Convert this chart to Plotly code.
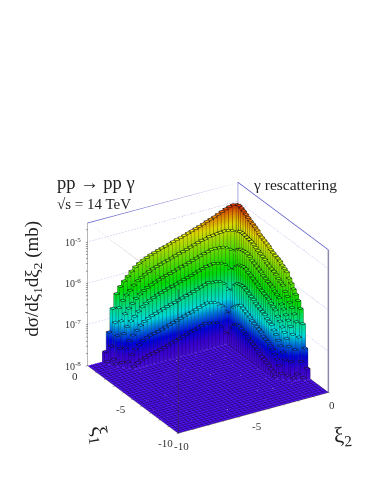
import plotly.graph_objects as go

# log10 of the cross section
# each row is one L-shaped strip next to xi1 = 0 / xi2 = 0, from the corner outwards
row_0 = [-5.05, -5.03, -5.05, -5.08, -5.12, -5.16, -5.20, -5.23, -5.26, -5.30, -5.33, -5.36, -5.39, -5.42, -5.45, -5.48, -5.50, -5.53, -5.56, -5.59, -5.61, -5.64, -5.67, -5.70, -5.74, -5.78, -5.83, -5.89, -5.97, -6.07, -6.16, -6.27, -6.42, -6.75, -7.30, -7.75]
row_1 = [-5.65, -5.59, -5.56, -5.55, -5.56, -5.57, -5.58, -5.59, -5.62, -5.63, -5.66, -5.69, -5.72, -5.75, -5.78, -5.80, -5.83, -5.86, -5.89, -5.91, -5.94, -5.97, -6.00, -6.04, -6.08, -6.13, -6.19, -6.27, -6.37, -6.46, -6.57, -6.72, -7.05, -7.60, -7.95]
row_2 = [-6.12, -5.98, -5.92, -5.88, -5.87, -5.86, -5.86, -5.89, -5.91, -5.94, -5.97, -6.00, -6.03, -6.06, -6.08, -6.11, -6.14, -6.17, -6.19, -6.22, -6.25, -6.28, -6.32, -6.36, -6.41, -6.47, -6.55, -6.65, -6.74, -6.85, -7.00, -7.33, -7.88]
row_3 = [-6.58, -6.37, -6.26, -6.20, -6.18, -6.16, -6.17, -6.18, -6.21, -6.24, -6.27, -6.30, -6.33, -6.35, -6.38, -6.41, -6.44, -6.46, -6.49, -6.52, -6.55, -6.59, -6.63, -6.68, -6.74, -6.82, -6.92, -7.01, -7.12, -7.27, -7.60, -7.95]
row_4 = [-7.02, -6.81, -6.65, -6.58, -6.56, -6.55, -6.53, -6.56, -6.59, -6.62, -6.65, -6.68, -6.70, -6.73, -6.76, -6.79, -6.81, -6.84, -6.87, -6.90, -6.93, -6.96, -7.00, -7.05, -7.12, -7.22, -7.31, -7.42, -7.57, -7.90]
row_5 = [-7.51, -7.30, -7.13, -7.06, -7.00, -6.98, -6.96, -6.99, -7.02, -7.05, -7.08, -7.10, -7.13, -7.16, -7.19, -7.21, -7.24, -7.27, -7.30, -7.33, -7.35, -7.37, -7.40, -7.45, -7.53, -7.61, -7.72, -7.87]
row_6 = [-7.95, -7.73, -7.56, -7.45, -7.43, -7.41, -7.39, -7.42, -7.45, -7.48, -7.50, -7.53, -7.56, -7.59, -7.61, -7.64, -7.67, -7.70, -7.73, -7.75, -7.77, -7.79, -7.82, -7.86, -7.90, -7.96]
rows = [row_0, row_1, row_2, row_3, row_4, row_5, row_6]
# the xi1 arm falls faster and is about a unit shorter than the xi2 arm
skipped_bins = [10, 16, 22, 26]
short_rows = [[v for m, v in enumerate(r, k) if m not in skipped_bins] for k, r in enumerate(rows)]

n_bins = 40
xi_low, xi_high = -10, 0
z_floor, z_top = -8, -4.54
edges = [xi_low + 0.25 * i for i in range(n_bins + 1)]

z_ticks = [-8, -7, -6, -5]
z_text = ['10<sup>-8</sup>', '10<sup>-7</sup>', '10<sup>-6</sup>', '10<sup>-5</sup>']
z_minor = [-7.70, -7.52, -7.40, -7.30, -7.22, -7.15, -7.10, -7.05,
           -6.70, -6.52, -6.40, -6.30, -6.22, -6.15, -6.10, -6.05,
           -5.70, -5.52, -5.40, -5.30, -5.22, -5.15, -5.10, -5.05,
           -4.70, -4.52]
xi_ticks = [-10, -5, 0]
xi_text = ['-10', '-5', '0']
xi_minor = [-9, -8, -7, -6, -4, -3, -2, -1]


def cell_value(ix, iy):
    # ix is the xi2 bin, iy the xi1 bin
    a = n_bins - 1 - ix
    b = n_bins - 1 - iy
    k, m = min(a, b), max(a, b)
    table = rows if a >= b else short_rows
    if k >= len(table) or m - k >= len(table[k]):
        return z_floor
    return table[k][m - k]


heights = [[cell_value(ix, iy) for ix in range(n_bins)] for iy in range(n_bins)]

# doubled edges make the surface step like a lego plot
step_x = [e for i in range(n_bins) for e in (edges[i], edges[i + 1])]
step_z = []
for iy in range(n_bins):
    line = [v for v in heights[iy] for _ in (0, 1)]
    step_z.append(line)
    step_z.append(line)

rainbow = [
    [0.00, '#5010f0'], [0.08, '#4000f0'], [0.17, '#0000ff'], [0.25, '#0080ff'],
    [0.32, '#00ffff'], [0.43, '#00ff90'], [0.55, '#00ff00'], [0.72, '#90ff00'],
    [0.84, '#ffff00'], [0.92, '#ff9000'], [1.00, '#e01000'],
]
# same levels, darker, for the vertical bar edges
dark_rainbow = [
    [0.00, '#280878'], [0.08, '#200078'], [0.17, '#000080'], [0.25, '#004080'],
    [0.32, '#008080'], [0.43, '#008048'], [0.55, '#008000'], [0.72, '#488000'],
    [0.84, '#808000'], [0.92, '#804800'], [1.00, '#700800'],
]

fig = go.Figure()
fig.add_trace(go.Surface(
    x=step_x, y=step_x, z=step_z, surfacecolor=step_z,
    cmin=z_floor, cmax=-4.95, colorscale=rainbow, showscale=False, hoverinfo='skip',
    lighting=dict(ambient=0.85, diffuse=0.25, specular=0, roughness=1, fresnel=0),
))

# bar outlines, nudged towards the viewer so they sit on top of the faces
nudge = 0.03
top_x, top_y, top_z = [], [], []
wall_x, wall_y, wall_z, wall_c = [], [], [], []
floor_x, floor_y, floor_z = [], [], []
for iy in range(n_bins):
    for ix in range(n_bins):
        z = heights[iy][ix]
        x0, x1 = edges[ix] - nudge, edges[ix + 1] - nudge
        y0, y1 = edges[iy] - nudge, edges[iy + 1] - nudge
        lift = z + 0.01
        if z > z_floor:
            top_x += [x0, x1, x1, x0, x0, None]
            top_y += [y0, y0, y1, y1, y0, None]
            top_z += [lift, lift, lift, lift, lift, None]
            for cx, cy in ((x0, y0), (x1, y0), (x0, y1)):
                wall_x += [cx, cx, None]
                wall_y += [cy, cy, None]
                wall_z += [z_floor, z, None]
                wall_c += [z_floor, z, z]
        else:
            floor_x += [x0, x1, x1, None]
            floor_y += [y0, y0, y1, None]
            floor_z += [lift, lift, lift, None]
fig.add_trace(go.Scatter3d(x=top_x, y=top_y, z=top_z, mode='lines', hoverinfo='skip', showlegend=False,
                           line=dict(color='#101018', width=1)))
fig.add_trace(go.Scatter3d(x=wall_x, y=wall_y, z=wall_z, mode='lines', hoverinfo='skip', showlegend=False,
                           line=dict(color=wall_c, colorscale=dark_rainbow, cmin=z_floor, cmax=-4.95, width=1)))
fig.add_trace(go.Scatter3d(x=floor_x, y=floor_y, z=floor_z, mode='lines', hoverinfo='skip', showlegend=False,
                           line=dict(color='#200a68', width=1)))


def add_line(xs, ys, zs, color, width=1, dash='solid'):
    fig.add_trace(go.Scatter3d(x=xs, y=ys, z=zs, mode='lines', hoverinfo='skip', showlegend=False,
                               line=dict(color=color, width=width, dash=dash)))


# back walls: blue top edges, thick verticals, dotted decades
add_line([xi_low, xi_high, xi_high], [xi_high, xi_high, xi_low], [z_top, z_top, z_top], '#5a5ac8', 1.5)
add_line([xi_high, xi_high], [xi_high, xi_high], [z_floor, z_top], '#a8a8e0', 2)
add_line([xi_high, xi_high], [xi_low, xi_low], [z_floor, z_top], '#8a8aa8', 3)
for tick in z_ticks[1:]:
    add_line([xi_low, xi_high, xi_high], [xi_high, xi_high, xi_low], [tick, tick, tick], '#8c8ce0', 1, 'dot')
# front frame
add_line([xi_low, xi_low, xi_high], [xi_high, xi_low, xi_low], [z_top, z_top, z_top], '#404040', 1)
add_line([xi_low, xi_low], [xi_low, xi_low], [z_floor, z_top], '#303030', 1)

axis_common = dict(showbackground=False, showgrid=False, zeroline=False, showspikes=False,
                   showline=True, linecolor='#404040', linewidth=1, title='', ticks='outside',
                   ticklen=2, tickcolor='#404040', autorange=False, showticklabels=False,
                   tickmode='array')


def tick_label(text, x, y, z, dx, dy, anchor='center', size=11):
    return dict(x=x, y=y, z=z, text=text, showarrow=False, xshift=dx, yshift=dy, xanchor=anchor,
                yanchor='middle', font=dict(family='Liberation Serif', size=size, color='#333333'))


tick_labels = []
for tick, text in zip(z_ticks, z_text):
    tick_labels.append(tick_label(text, xi_low, xi_high, tick, -4, 0, 'right', 10))
for tick, text in zip(xi_ticks, xi_text):
    tick_labels.append(tick_label(text, xi_low, tick, z_floor, -12, -10))   # xi1
    tick_labels.append(tick_label(text, tick, xi_low, z_floor, 4, -13))     # xi2

fig.update_layout(
    margin=dict(l=0, r=0, t=0, b=0),
    paper_bgcolor='white',
    showlegend=False,
    scene=dict(
        domain=dict(x=[0.092, 1.0], y=[0.0, 0.756]),
        aspectmode='manual',
        aspectratio=dict(x=0.972, y=0.972, z=0.885),
        camera=dict(
            projection=dict(type='orthographic'),
            up=dict(x=0, y=0, z=1),
            center=dict(x=0, y=0, z=0.014),
            eye=dict(x=-0.95, y=-1.576, z=0.941),
        ),
        xaxis=dict(axis_common, range=[xi_low, xi_high], tickvals=sorted(xi_ticks + xi_minor)),
        yaxis=dict(axis_common, range=[xi_low, xi_high], tickvals=sorted(xi_ticks + xi_minor)),
        zaxis=dict(axis_common, range=[z_floor, z_top], tickvals=sorted(z_ticks + z_minor)),
        annotations=tick_labels,
    ),
    annotations=[
        dict(text='pp → pp γ', x=49, y=181, font_size=18.5, xanchor='left'),
        dict(text='√s = 14 TeV', x=49, y=203, font_size=15, xanchor='left'),
        dict(text='γ rescattering', x=254, y=182, font_size=15.5, xanchor='left'),
        dict(text='dσ/dξ<sub>1</sub>dξ<sub>2</sub> (mb)', x=26, y=280, font_size=19, textangle=-90, xanchor='center'),
        dict(text='ξ<sub>1</sub>', x=95, y=441, font_size=22, textangle=80, xanchor='center'),
        dict(text='ξ<sub>2</sub>', x=350, y=442, font_size=22, textangle=-5, xanchor='center'),
    ],
)
for ann in fig.layout.annotations:
    ann.update(x=ann.x / 382, y=1 - ann.y / 494, xref='paper', yref='paper', showarrow=False,
               yanchor='middle', align='left')
    ann.font.update(family='Liberation Serif', color='#222222')

fig.write_html("out.html")
